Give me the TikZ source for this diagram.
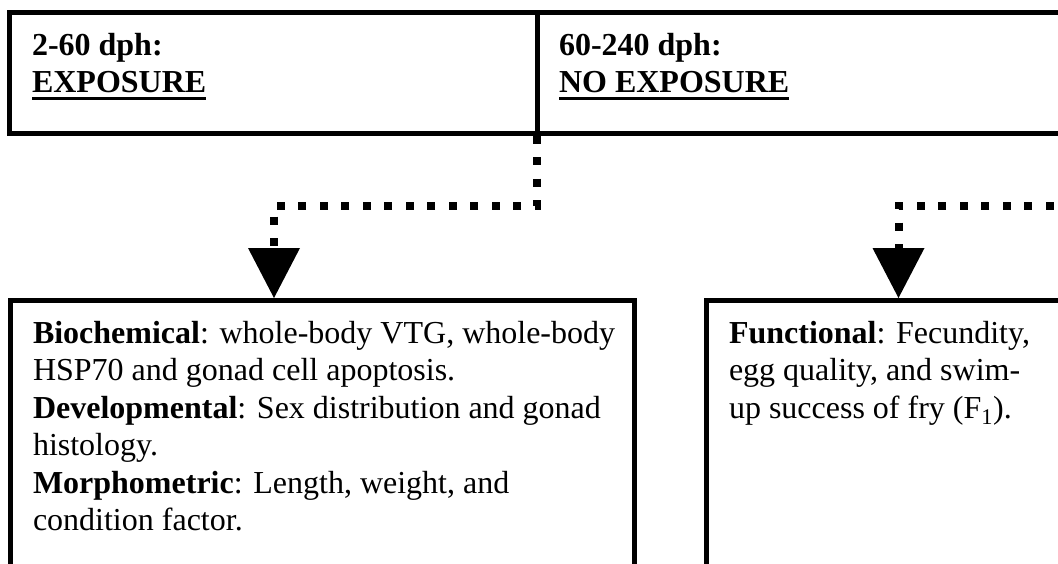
\documentclass[tikz,border=0pt]{standalone}
\usepackage{fontspec}
\setmainfont{Liberation Serif}
\newcommand\ulbox[1]{\begingroup\setbox0=\hbox{#1}\rlap{\rule[-7pt]{\wd0}{3pt}}\box0\endgroup}
\usetikzlibrary{arrows.meta,calc}
\begin{document}
\begin{tikzpicture}[x=1pt,y=-1pt,
  frame/.style={draw=black,line width=5pt,inner sep=0pt,outer sep=2.5pt,anchor=north west,rectangle},
  txt/.style={anchor=north west,inner sep=0pt,outer sep=0pt,align=left,font=\fontsize{32}{37.5}\selectfont},
  dotline/.style={draw=black,line width=8pt,line cap=butt,dash pattern=on 8pt off 13.5pt,
    -{Triangle[length=50pt,width=52pt,line width=0pt]}}]
\useasboundingbox (0,0) rectangle (1058,563);
% header banner
\node[frame,minimum width=527.5pt,minimum height=120.5pt] (h1) at (7,10) {};
\node[frame,minimum width=600pt,minimum height=120.5pt] (h2) at (534.5,10) {};
\node[txt] (t1) at ($(h1.north west)+(25,23)$) {\textbf{2-60 dph:}\\\ulbox{\textbf{EXPOSURE}}};
\node[txt] (t2) at ($(h2.north west)+(24.5,23)$) {\textbf{60-240 dph:}\\\ulbox{\textbf{NO EXPOSURE}}};
% lower boxes
\node[frame,minimum width=624pt,minimum height=330pt] (b1) at (8,298) {};
\node[frame,minimum width=500pt,minimum height=330pt] (b2) at (704,298) {};
\node[txt] (t3) at ($(b1.north west)+(25,23)$) {\textbf{Biochemical}: whole-body VTG, whole-body\\
HSP70 and gonad cell apoptosis.\\
\textbf{Developmental}: Sex distribution and gonad\\
histology.\\
\textbf{Morphometric}: Length, weight, and\\
condition factor.};
\node[txt] (t4) at ($(b2.north west)+(25,23)$) {\textbf{Functional}: Fecundity,\\
egg quality, and swim-\\
up success of fry (F\textsubscript{1}).};
% connectors
\coordinate (rstart) at (1075,205.5);
\draw[dotline] ($(h1.south east)!0.5!(h2.south west)$) -- ++(0,70) -| ($(b1.north west)+(266,0)$);
\draw[dotline] (rstart) -| ($(b2.north west)+(194.5,0)$);
\end{tikzpicture}
\end{document}
